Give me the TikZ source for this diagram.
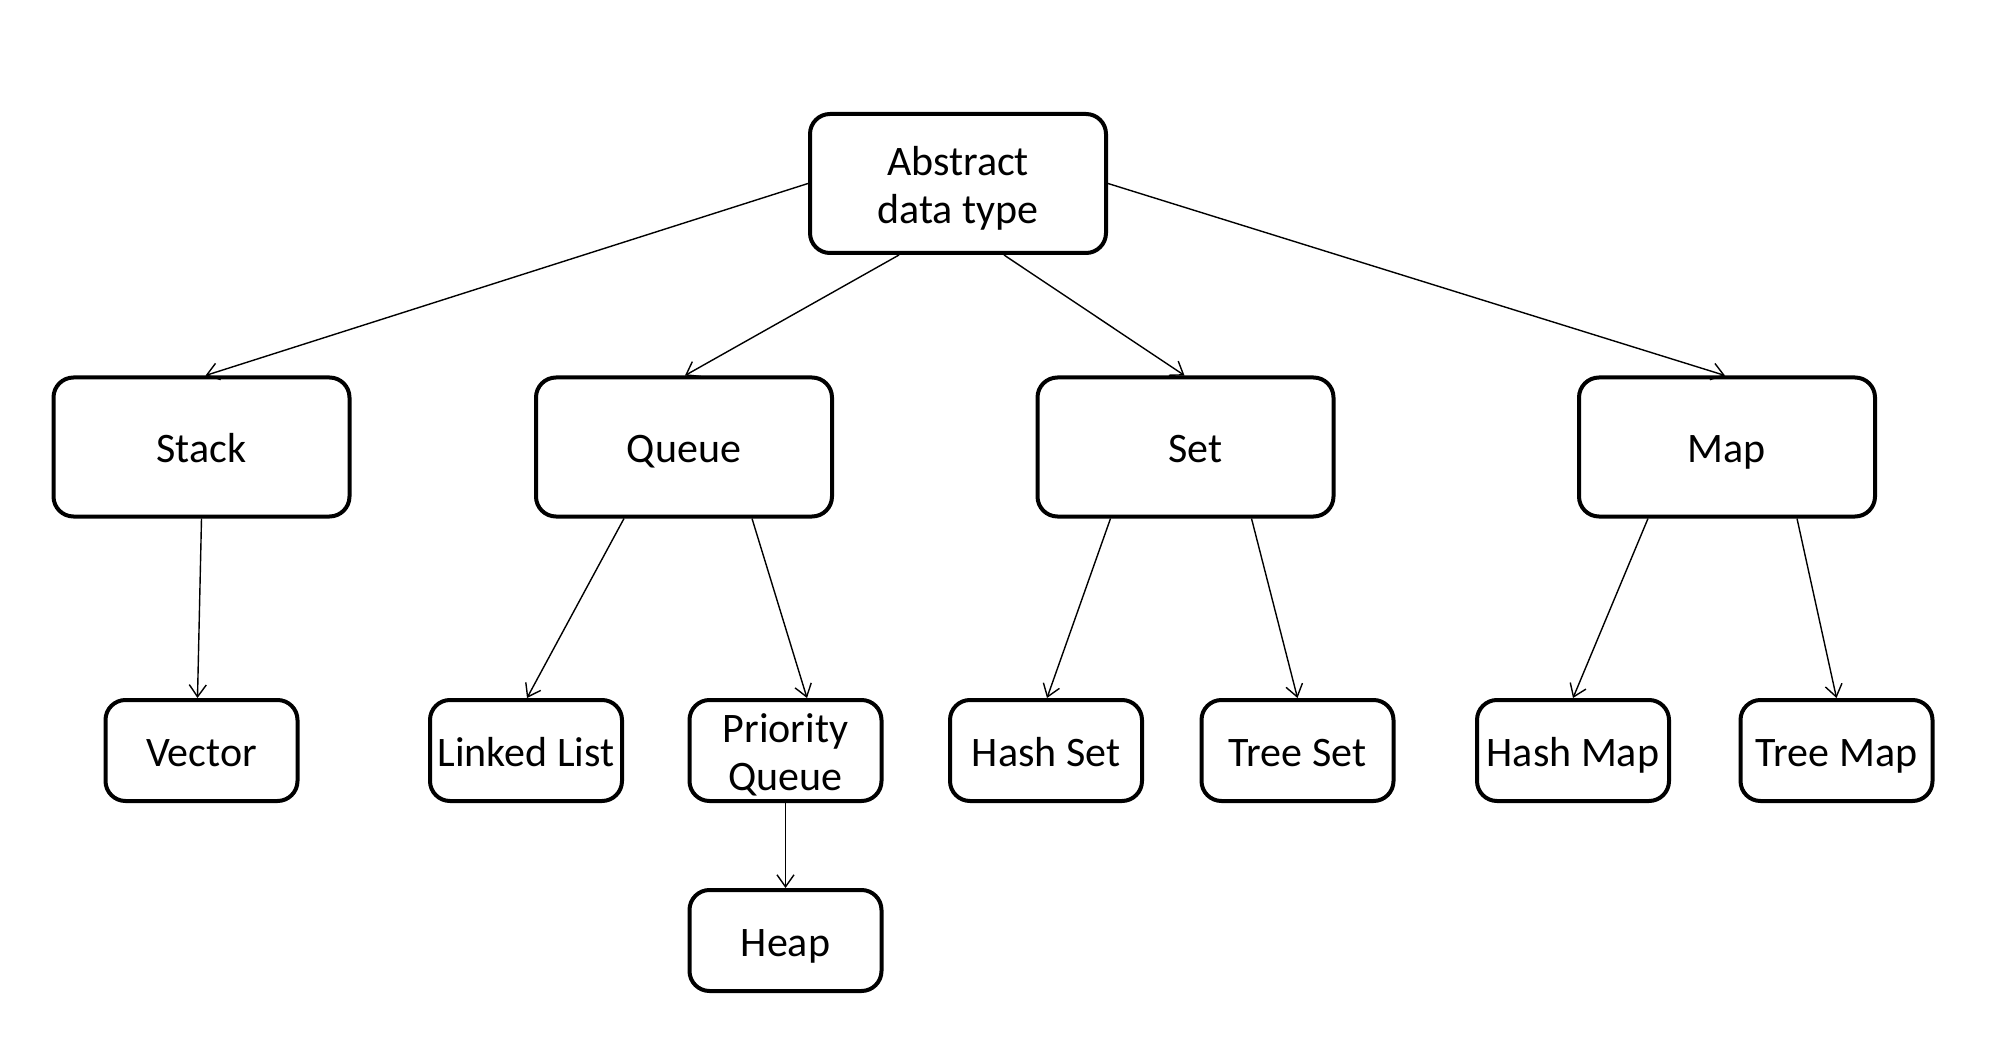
\documentclass[tikz,border=0pt]{standalone}
\usepackage{fontspec}
\setmainfont{Carlito}
\usetikzlibrary{arrows.meta}
\newcommand{\topstrut}{\rule{0pt}{38pt}}
\begin{document}
\begin{tikzpicture}[x=1pt,y=-1pt,
  box/.style={draw=black,line width=4pt,rounded corners=20pt,fill=white,inner sep=0pt,align=center,
    font=\fontsize{42}{48}\selectfont},
  one/.style={text height=31pt,text depth=0pt},
  bigbox/.style={box,minimum width=296pt,minimum height=139pt},
  smallbox/.style={box,minimum width=192pt,minimum height=101pt},
  conn/.style={line width=1.4pt,-{Straight Barb[length=12pt,width=17pt,line width=1.4pt]}}]
\useasboundingbox (0,0) rectangle (2014,1040);
\node[bigbox] (abs) at (958,183.5) {\topstrut Abstract\\data type};
\node[bigbox,one] (stack) at (201.5,447) {Stack};
\node[bigbox,one] (queue) at (684,447) {Queue};
\node[bigbox,one] (set) at (1185.5,447) {\hspace*{20pt}Set};
\node[bigbox,one] (map) at (1727,447) {Map};
\node[smallbox,one] (vector) at (201.5,750.5) {Vector};
\node[smallbox,one] (linked) at (526,750.5) {Linked List};
\node[smallbox] (pq) at (785.5,750.5) {\topstrut Priority\\Queue};
\node[smallbox,one] (heap) at (785.5,940.5) {Heap};
\node[smallbox,one] (hashset) at (1046,750.5) {Hash Set};
\node[smallbox,one] (treeset) at (1297.5,750.5) {Tree Set};
\node[smallbox,one] (hashmap) at (1573,750.5) {Hash Map};
\node[smallbox,one] (treemap) at (1836.5,750.5) {Tree Map};
\draw[conn] (abs.west) -- ([xshift=4pt]stack.north);
\draw[conn] ([xshift=-59pt]abs.south) -- ([xshift=1pt]queue.north);
\draw[conn] ([xshift=46pt]abs.south) -- ([xshift=-1pt]set.north);
\draw[conn] (abs.east) -- ([xshift=-2pt]map.north);
\draw[conn] (stack.south) -- ([xshift=-4pt]vector.north);
\draw[conn] ([xshift=-60pt]queue.south) -- ([xshift=1pt]linked.north);
\draw[conn] ([xshift=68pt]queue.south) -- ([xshift=21.5pt]pq.north);
\draw[conn] (pq.south) -- (heap.north);
\draw[conn] ([xshift=-75pt]set.south) -- ([xshift=1pt]hashset.north);
\draw[conn] ([xshift=66pt]set.south) -- (treeset.north);
\draw[conn] ([xshift=-79pt]map.south) -- (hashmap.north);
\draw[conn] ([xshift=70pt]map.south) -- (treemap.north);
\end{tikzpicture}
\end{document}
